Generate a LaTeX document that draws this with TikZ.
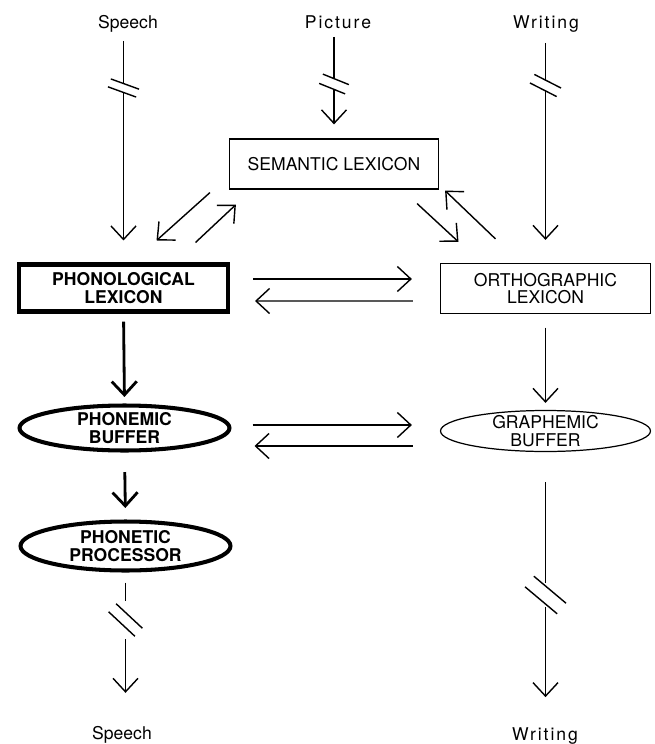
\documentclass[tikz,border=0pt]{standalone}
\usepackage{fontspec}
\setmainfont{TeX Gyre Heros}
\usetikzlibrary{arrows.meta,shapes.geometric,calc}

\begin{document}
\begin{tikzpicture}[x=0.02cm,y=0.02cm,>={Straight Barb[length=0.27cm,width=0.5cm]},line width=0.8pt,
    font=\fontsize{10}{10}\selectfont,
    lex node/.style={rectangle,draw,line width=0.7pt,minimum width=4.18cm,minimum height=1cm,align=center,inner sep=0pt},
    buf node/.style={ellipse,draw,line width=0.7pt,minimum width=4.2cm,minimum height=0.82cm,align=center,inner sep=0pt,inner ysep=-2pt},
    heavy/.style={line width=2.3pt,font=\fontsize{10}{10}\selectfont\bfseries},
    heavy arrow/.style={->,line width=1.6pt},
    io node/.style={anchor=base,inner sep=3.33pt},
    spaced/.style={font=\fontsize{10}{10}\selectfont\addfontfeatures{LetterSpace=11}},
    pics/brk/.style n args={4}{code={
        \fill[white] (-3,-#2) rectangle (3,#2);
        \draw[rotate=#1] (-#3,#4) -- (#3,#4) (-#3,-#4) -- (#3,-#4);}}]
    \useasboundingbox (0,0) rectangle (655,-744);

    % inputs
    \node[io node] (spIn) at (128,-28) {Speech};
    \node[io node,spaced] (picIn) at (338,-28) {Picture};
    \node[io node,spaced] (wrIn) at (546,-28) {Writing};

    % lexicons and buffers
    \node[lex node] (sem) at (334,-164) {SEMANTIC LEXICON};
    \node[lex node,heavy,minimum height=0.94cm] (phon) at (123.5,-288) {PHONOLOGICAL\\LEXICON};
    \node[lex node,minimum width=4.2cm] (orth) at (545.5,-288.5) {ORTHOGRAPHIC\\LEXICON};
    \node[buf node,heavy,minimum height=0.9cm] (pbuf) at (124.5,-428) {PHONEMIC\\BUFFER};
    \node[buf node] (gbuf) at (545.5,-431) {GRAPHEMIC\\BUFFER};
    \node[buf node,heavy,minimum height=0.98cm] (pproc) at (125.5,-546) {PHONETIC\\PROCESSOR};

    % outputs
    \node[io node] (spOut) at (122,-739) {Speech};
    \node[io node,spaced] (wrOut) at (545,-740) {Writing};

    % input routes
    \draw[->,shorten <=0.05cm,shorten >=0.44cm] (spIn.south -| phon.north) -- (phon.north);
    \pic at (123.5,-88) {brk={-20}{4}{15}{4.2}};
    \draw[->,shorten <=0.04cm,shorten >=0.28cm] (picIn.south -| sem.north) -- (sem.north);
    \pic at (334,-84) {brk={-22}{5}{14}{5}};
    \draw[->,shorten <=0.09cm,shorten >=0.46cm] (wrIn.south -| orth.north) -- (orth.north);
    \pic at (545.5,-85.5) {brk={-27}{5}{15}{4.8}};

    % semantic links
    \draw[->] ($(sem.south west)+(-19,-3)$) -- ($(phon.north)+(33,22)$);
    \draw[->] ($(phon.north)+(72,20)$) -- ($(sem.south west)+(7,-15)$);
    \draw[->] ($(sem.south east)+(-22,-14)$) -- ($(orth.north)+(-87,21)$);
    \draw[->] ($(orth.north)+(-50,24)$) -- ($(sem.south east)+(6,-1)$);

    % cross links
    \draw[->] ($(phon.east)+(23,9)$) -- ($(orth.west)+(-28,9.5)$);
    \draw[->] ($(orth.west)+(-27,-12.5)$) -- ($(phon.east)+(25,-13)$);
    \draw[->] ($(pbuf.east)+(21,3)$) -- ($(gbuf.west)+(-28,6)$);
    \draw[->] ($(gbuf.west)+(-27,-15)$) -- ($(pbuf.east)+(23,-18)$);

    % output routes
    \draw[heavy arrow,shorten <=0.16cm,shorten >=0.13cm] (phon.south) -- (pbuf.north);
    \draw[->,shorten <=0.27cm,shorten >=0.14cm] (orth.south) -- (gbuf.north);
    \draw[heavy arrow,shorten <=0.39cm,shorten >=0.23cm] (pbuf.south) -- (pproc.north);
    \draw[->,shorten <=0.2cm,shorten >=0.53cm] (pproc.south) -- (pproc.south |- spOut.north);
    \pic at (125.5,-620) {brk={-43}{19}{18}{5.5}};
    \draw[->,shorten <=0.6cm,shorten >=0.47cm] (gbuf.south) -- (gbuf.south |- wrOut.north);
    \pic at (545.5,-595) {brk={-40}{12}{21}{6.9}};
\end{tikzpicture}
\end{document}
